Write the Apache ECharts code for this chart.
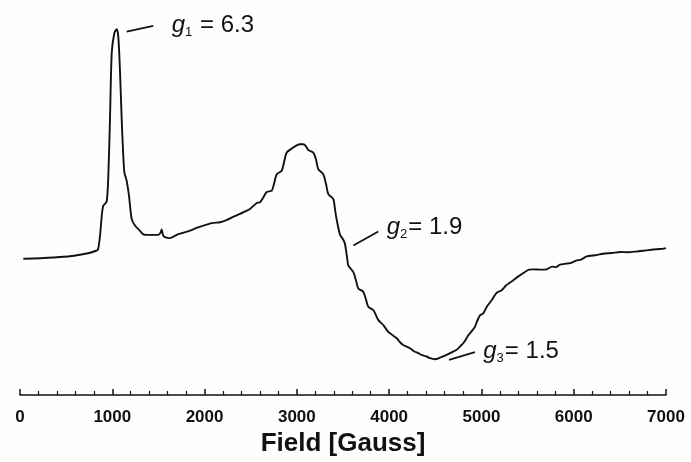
<!DOCTYPE html>
<html>
<head>
<meta charset="utf-8">
<script src="https://cdn.jsdelivr.net/npm/echarts@6/dist/echarts.min.js"></script>
<style>
html,body{margin:0;padding:0;background:#fefefc;}
#chart{width:691px;height:462px;}
</style>
</head>
<body>
<div id="chart"></div>
<script>
// Magnetic field (Gauss) of each sampled point
var fields = [36,217,433,542,650,737,780,824,845,867,888,903,939,957,975,994,1022,1048,1065,1083,1102,1130,1156,1181,1210,1246,1300,1336,1373,1499,1522,1535,1549,1571,1625,1698,1766,1842,1929,2023,2091,2167,2243,2308,2384,2438,2492,2565,2601,2633,2673,2728,2752,2782,2836,2861,2890,2944,2998,3034,3070,3099,3124,3178,3207,3232,3286,3316,3341,3395,3413,3430,3468,3503,3521,3546,3557,3611,3641,3666,3720,3749,3774,3829,3858,3883,3937,3977,4009,4082,4118,4153,4226,4269,4316,4356,4407,4443,4497,4551,4605,4659,4732,4768,4811,4858,4876,4930,4952,4984,5020,5060,5111,5136,5169,5220,5266,5310,5345,5396,5472,5515,5562,5635,5707,5765,5808,5851,5916,5960,6032,6079,6141,6231,6321,6415,6502,6588,6683,6773,6863,6935,7000];
// EPR signal intensity (arbitrary units)
var intensity = [0,0.5,1.7,2.5,4,5.5,6.5,8,9,23,45,53.3,57.3,83.3,140,207,226.7,230.7,223.3,190,140,87,78.3,63.3,40,33.3,28,24.5,24,24,26,29.3,24,21.7,20.7,24,26,28.3,31.5,34.3,36,36.7,39,42,45,47.5,50,56,56.7,61,67,68.5,75,85,88.3,97,106.7,110.7,114,115,115,113,109.3,106.7,100,90,85,75,65,60,50,40,24,19,15,0,-6.7,-13.3,-22,-30,-33.3,-41,-48.3,-51.7,-57,-61.7,-66.7,-72,-75,-80,-84,-86.7,-90,-93,-95,-97,-98.3,-100,-101,-99.5,-97.5,-95,-91.5,-88.3,-84,-77,-75,-68.3,-63,-57,-55,-48,-41.7,-38,-34,-31.7,-27,-24,-21.7,-18,-13.3,-11,-10.7,-11,-10.7,-8,-8.5,-6,-5,-4.5,-1.7,-1,2.3,3.5,5,5.7,6.7,6.5,7.3,8.2,9.3,9.7,10.7];
// Axis ticks
var xTicks = [0,1000,2000,3000,4000,5000,6000,7000];
// Annotations: g-value labels with their leader lines (data coordinates)
var gNames = ['1','2','3'];
var gValues = ['6.3','1.9','1.5'];
var gSep = [' = ','= ','= '];
var gLeaderFrom = [[1156,228.3],[3612,13.3],[4649,-101.7]];
var gLeaderTo = [[1444,234],[3883,27.3],[4930,-94]];
var gTextAt = [[1644,235],[3973,31.7],[5020,-93]];

var FONT = 'Arial, "Liberation Sans", Helvetica, sans-serif';
var chart = echarts.init(document.getElementById('chart'), null, {renderer:'canvas'});

var seriesData = fields.map(function(f,i){return [f,intensity[i]];});
var leaderData = gLeaderFrom.map(function(p,i){return [{coord:p},{coord:gLeaderTo[i]}];});
var textData = gTextAt.map(function(p,i){
  return {coord:p, label:{formatter:'{g|g}{s|'+gNames[i]+'}{n|'+gSep[i]+gValues[i]+'}'}};
});

chart.setOption({
  backgroundColor:'#fefefc',
  animation:false,
  grid:{left:20,right:25,top:10,bottom:65,containLabel:false},
  xAxis:{
    type:'value', min:xTicks[0], max:xTicks[xTicks.length-1], interval:1000,
    name:'Field [Gauss]', nameLocation:'middle', nameGap:36,
    nameTextStyle:{fontFamily:FONT,fontWeight:'bold',fontSize:26,color:'#111'},
    axisLine:{show:true,onZero:false,lineStyle:{color:'#111',width:1.5}},
    axisTick:{show:true,inside:true,length:6,lineStyle:{color:'#111',width:1.5}},
    minorTick:{show:true,splitNumber:5,length:4,lineStyle:{color:'#111',width:1.2}},
    axisLabel:{show:true,margin:14,fontFamily:FONT,fontWeight:'bold',fontSize:17,color:'#111',
      formatter:function(v){return String(v);}},
    splitLine:{show:false}
  },
  yAxis:{
    type:'value', min:-137, max:250, show:false,
    splitLine:{show:false}
  },
  series:[{
    type:'line', data:seriesData, showSymbol:false, symbol:'none',
    lineStyle:{color:'#111',width:1.9}, smooth:0.25,
    markLine:{
      silent:true, symbol:['none','none'],
      lineStyle:{color:'#111',width:1.8,type:'solid'},
      label:{show:false},
      data:leaderData
    },
    markPoint:{
      silent:true, symbol:'circle', symbolSize:0,
      label:{
        show:true, position:'right', distance:0,
        rich:{
          g:{fontFamily:FONT,fontStyle:'italic',fontSize:24,color:'#111',lineHeight:28},
          s:{fontFamily:FONT,fontSize:13,color:'#111',verticalAlign:'bottom',lineHeight:13,padding:[0,1,0,0]},
          n:{fontFamily:FONT,fontSize:24,color:'#111',lineHeight:28}
        }
      },
      data:textData
    }
  }]
});
</script>
</body>
</html>
